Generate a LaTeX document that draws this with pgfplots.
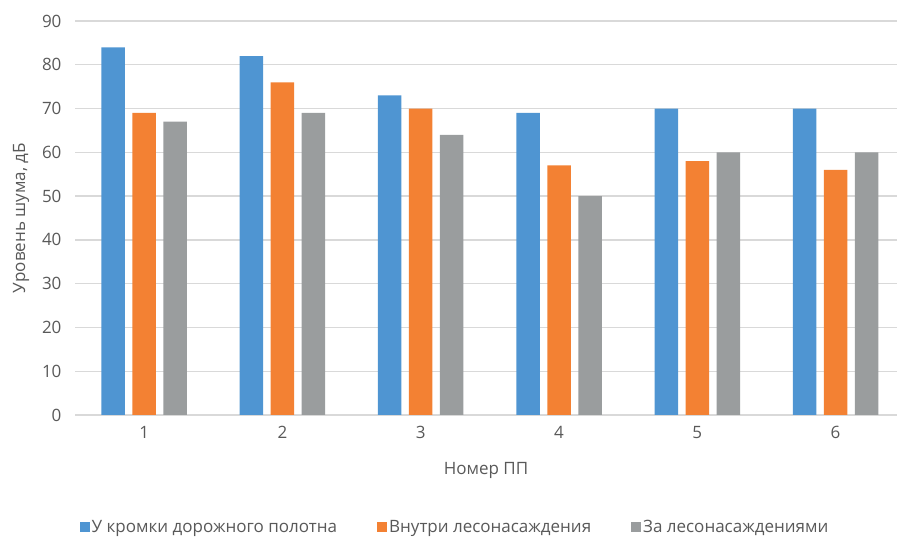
\documentclass[border=0pt]{standalone}
\usepackage{pgfplots}
\pgfplotsset{compat=1.18}
\usepackage{fontspec}
\setmainfont{Open Sans}

\definecolor{cblue}{HTML}{4F95D2}
\definecolor{corange}{HTML}{F38133}
\definecolor{cgray}{HTML}{9A9D9E}
\definecolor{cgrid}{HTML}{D9D9D9}
\definecolor{ctext}{HTML}{595959}

\begin{document}
\begin{tikzpicture}[font=\fontsize{17}{20}\selectfont]
\useasboundingbox (0pt,0pt) rectangle (897pt,538pt);
\begin{axis}[
  at={(75pt,123pt)}, anchor=south west,
  scale only axis, width=822pt, height=394pt,
  xmin=0.5, xmax=6.444, ymin=0, ymax=90,
  ybar=7.5pt, bar width=23.5pt,
  xtick={1,2,3,4,5,6},
  ytick={0,10,...,90},
  major tick length=0pt,
  axis line style={draw=none},
  ymajorgrids, grid style={cgrid, line width=1.4pt},
  /pgf/number format/assume math mode=true,
  tick label style={text=ctext},
  xticklabel style={yshift=-8pt},
  yticklabel style={xshift=-10pt},
  xlabel={Номер ПП}, ylabel={Уровень шума, дБ},
  label style={text=ctext},
  xlabel style={yshift=-16pt},
  ylabel style={yshift=6pt},
  legend style={draw=none, at={(0.5,0)}, anchor=center, yshift=-112pt, xshift=-31pt,
    legend columns=-1, /tikz/every even column/.append style={column sep=38pt},
    text=ctext, font=\fontsize{17}{20}\selectfont},
  legend image code/.code={\fill[#1] (0pt,-5pt) rectangle (10pt,5pt);},
  clip=false,
]
\addplot[fill=cblue, draw=none] coordinates {(1,84) (2,82) (3,73) (4,69) (5,70) (6,70)};
\addplot[fill=corange, draw=none] coordinates {(1,69) (2,76) (3,70) (4,57) (5,58) (6,56)};
\addplot[fill=cgray, draw=none] coordinates {(1,67) (2,69) (3,64) (4,50) (5,60) (6,60)};
\legend{У кромки дорожного полотна, Внутри лесонасаждения, За лесонасаждениями}
\end{axis}
\end{tikzpicture}
\end{document}
